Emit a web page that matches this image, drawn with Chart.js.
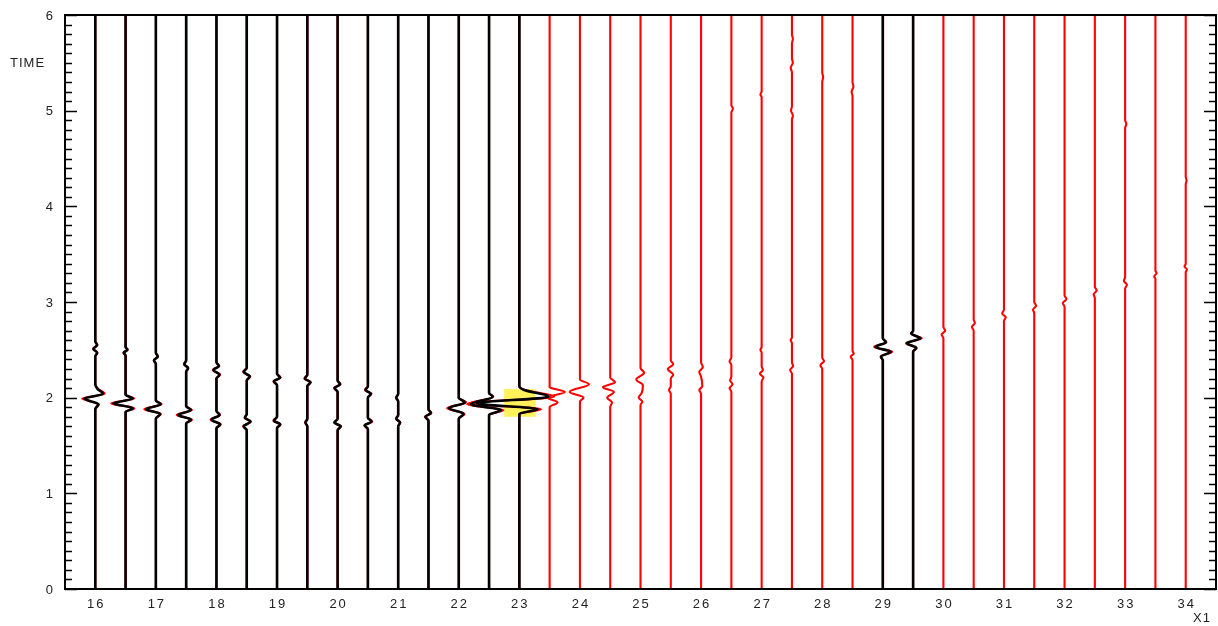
<!DOCTYPE html>
<html>
<head>
<meta charset="utf-8">
<title>Wiggle traces</title>
<script src="https://cdn.jsdelivr.net/npm/chart.js@4.4.1/dist/chart.umd.min.js"></script>
<style>
  html, body { margin: 0; padding: 0; background: #fff; }
  #wrap { width: 1218px; height: 626px; }
</style>
</head>
<body>
<div id="wrap"><canvas id="chart" width="1218" height="626"></canvas></div>
<script>
// trace positions along X1
const traceX = [16, 16.5, 17, 17.5, 18, 18.5, 19, 19.5, 20, 20.5, 21, 21.5, 22, 22.5, 23,
                23.5, 24, 24.5, 25, 25.5, 26, 26.5, 27, 27.5, 28, 28.5, 29, 29.5,
                30, 30.5, 31, 31.5, 32, 32.5, 33, 33.5, 34];

// traces picked (drawn black over a red copy); all others are red
const pickedTraces = [16, 16.5, 17, 17.5, 18, 18.5, 19, 19.5, 20, 20.5, 21, 21.5, 22, 22.5, 23, 29, 29.5];

// wiggle samples per trace: [time, amplitude in X1 units], time ascending
const wiggles = [
  [[1.88, 0], [1.93, 0.05], [1.99, -0.18], [2.04, 0.13], [2.09, 0.04], [2.14, 0], [2.43, 0], [2.47, 0.03], [2.51, -0.03], [2.55, 0.03], [2.59, 0]],
  [[1.85, 0], [1.89, 0.12], [1.94, -0.2], [1.99, 0.12], [2.03, 0], [2.44, 0], [2.47, -0.03], [2.50, 0.03], [2.53, 0]],
  [[1.78, 0], [1.83, 0.07], [1.88, -0.16], [1.93, 0.08], [1.97, 0], [2.35, 0], [2.39, -0.03], [2.43, 0.03], [2.47, 0]],
  [[1.73, 0], [1.77, 0.08], [1.82, -0.13], [1.87, 0.08], [1.91, 0], [2.27, 0], [2.31, 0.03], [2.35, -0.03], [2.39, 0]],
  [[1.68, 0], [1.72, 0.06], [1.77, -0.08], [1.82, 0.05], [1.86, 0], [2.20, 0], [2.24, 0.05], [2.29, -0.05], [2.33, 0.04], [2.37, 0]],
  [[1.66, 0], [1.70, -0.05], [1.75, 0.06], [1.79, -0.03], [1.83, 0], [2.18, 0], [2.22, 0.05], [2.27, -0.05], [2.31, 0]],
  [[1.68, 0], [1.72, 0.05], [1.76, -0.05], [1.80, 0], [2.13, 0], [2.17, -0.05], [2.21, 0.05], [2.25, 0]],
  [[1.70, 0], [1.74, -0.03], [1.78, 0], [2.12, 0], [2.16, 0.05], [2.20, -0.04], [2.24, 0]],
  [[1.66, 0], [1.70, 0.05], [1.74, -0.05], [1.78, 0], [2.06, 0], [2.10, -0.05], [2.14, 0.04], [2.18, 0]],
  [[1.67, 0], [1.71, -0.05], [1.75, 0.06], [1.79, 0], [2.00, 0], [2.04, 0.05], [2.08, -0.04], [2.12, 0]],
  [[1.70, 0], [1.74, 0.03], [1.78, -0.03], [1.82, 0], [1.96, 0], [2.00, -0.03], [2.04, 0]],
  [[1.76, 0], [1.80, -0.05], [1.84, 0.04], [1.88, 0]],
  [[1.78, 0], [1.83, 0.08], [1.89, -0.16], [1.95, 0.1], [2.00, 0]],
  [[1.82, 0], [1.87, 0.2], [1.93, -0.3], [2.01, 0.06], [2.05, 0]],
  [[1.83, 0], [1.88, 0.3], [1.94, -0.7], [2.01, 0.48], [2.08, 0.08], [2.12, 0]],
  [[1.90, 0], [1.95, 0.13], [2.00, -0.03], [2.06, 0.25], [2.11, 0]],
  [[1.96, 0], [2.00, 0.06], [2.06, -0.17], [2.14, 0.15], [2.19, 0]],
  [[1.90, 0], [1.95, 0.03], [2.00, -0.05], [2.06, 0.06], [2.11, -0.12], [2.16, 0.08], [2.21, 0]],
  [[1.92, 0], [1.96, 0.03], [2.00, -0.03], [2.05, 0.02], [2.13, 0.04], [2.19, -0.07], [2.26, 0.06], [2.31, 0]],
  [[2.04, 0], [2.08, -0.03], [2.12, 0], [2.20, 0], [2.24, 0.04], [2.30, -0.05], [2.35, 0.04], [2.39, 0]],
  [[2.04, 0], [2.08, -0.03], [2.12, 0.02], [2.22, 0], [2.27, -0.03], [2.32, 0.03], [2.37, 0]],
  [[2.06, 0], [2.10, -0.03], [2.14, 0.02], [2.18, -0.02], [2.22, 0], [2.34, 0], [2.38, -0.03], [2.42, 0],
   [4.98, 0], [5.02, 0.025], [5.06, 0]],
  [[2.17, 0], [2.21, 0.03], [2.25, -0.03], [2.29, 0.02], [2.33, 0], [2.47, 0], [2.50, -0.02], [2.53, 0],
   [5.14, 0], [5.17, -0.02], [5.20, 0]],
  [[2.25, 0], [2.29, -0.03], [2.33, 0.02], [2.37, 0], [2.57, 0], [2.60, -0.02], [2.63, 0],
   [4.90, 0], [4.95, 0.015], [5.00, -0.015], [5.05, 0], [5.40, 0], [5.45, -0.02], [5.50, 0.015], [5.55, 0],
   [5.70, 0], [5.75, 0.015], [5.80, 0]],
  [[2.30, 0], [2.34, -0.03], [2.38, 0.03], [2.42, 0], [5.30, 0], [5.35, 0.015], [5.40, 0]],
  [[2.39, 0], [2.43, -0.03], [2.46, 0.02], [2.49, 0], [5.15, 0], [5.20, -0.015], [5.25, 0.015], [5.30, 0]],
  [[2.39, 0], [2.43, -0.03], [2.48, 0.13], [2.53, -0.12], [2.58, 0.05], [2.62, 0]],
  [[2.48, 0], [2.52, 0.05], [2.57, -0.1], [2.62, 0.12], [2.67, -0.03], [2.70, 0]],
  [[2.62, 0], [2.66, -0.03], [2.70, 0.03], [2.74, 0]],
  [[2.70, 0], [2.74, -0.03], [2.78, 0.02], [2.82, 0]],
  [[2.80, 0], [2.84, 0.03], [2.88, -0.03], [2.92, 0]],
  [[2.88, 0], [2.92, -0.02], [2.96, 0.03], [3.00, 0]],
  [[2.95, 0], [2.99, -0.03], [3.03, 0.03], [3.07, 0]],
  [[3.04, 0], [3.08, -0.02], [3.12, 0.03], [3.16, 0]],
  [[3.14, 0], [3.18, 0.03], [3.22, -0.02], [3.26, 0], [4.82, 0], [4.86, 0.02], [4.90, 0]],
  [[3.24, 0], [3.27, -0.02], [3.30, 0.02], [3.33, 0]],
  [[3.31, 0], [3.34, 0.02], [3.37, -0.02], [3.40, 0], [4.23, 0], [4.27, 0.015], [4.31, 0]]
];

const xTicks = [16, 17, 18, 19, 20, 21, 22, 23, 24, 25, 26, 27, 28, 29, 30, 31, 32, 33, 34];
const yTicks = [0, 1, 2, 3, 4, 5, 6];

// highlighted pick window: X1 range and time range
const pickX = [22.75, 23.27];
const pickT = [1.80, 2.09];

const X_MIN = 15.5, X_MAX = 34.5, T_MIN = 0, T_MAX = 6;

function tracePoints(pos, samples, gain) {
  const pts = [{ x: pos, y: T_MIN }];
  samples.forEach(function (s) {
    pts.push({ x: pos + s[1] * gain, y: s[0] });
  });
  pts.push({ x: pos, y: T_MAX });
  return pts;
}

const base = {
  type: 'line',
  fill: false,
  pointRadius: 0,
  pointHoverRadius: 0,
  cubicInterpolationMode: 'monotone',
  indexAxis: 'y'
};

const blackSets = [];
const redSets = [];
traceX.forEach(function (pos, i) {
  const picked = pickedTraces.indexOf(pos) !== -1;
  // red copy under every trace
  redSets.push(Object.assign({}, base, {
    data: tracePoints(pos, wiggles[i], picked ? 1.2 : 1),
    borderColor: '#ff0000',
    borderWidth: 2.1
  }));
  if (picked) {
    blackSets.push(Object.assign({}, base, {
      data: tracePoints(pos, wiggles[i], 1),
      borderColor: '#000000',
      borderWidth: 2.6
    }));
  }
});

// pick window behind the traces
const pickBoxPlugin = {
  id: 'pickBox',
  beforeDatasetsDraw: function (chart) {
    const xs = chart.scales.x, ys = chart.scales.y, ctx = chart.ctx;
    const x0 = xs.getPixelForValue(pickX[0]), x1 = xs.getPixelForValue(pickX[1]);
    const y0 = ys.getPixelForValue(pickT[1]), y1 = ys.getPixelForValue(pickT[0]);
    ctx.save();
    ctx.fillStyle = '#fff25a';
    ctx.fillRect(x0, y0, x1 - x0, y1 - y0);
    ctx.restore();
  }
};

// frame, inward ticks and labels
const framePlugin = {
  id: 'frame',
  afterDatasetsDraw: function (chart) {
    const a = chart.chartArea, ctx = chart.ctx;
    const xs = chart.scales.x, ys = chart.scales.y;
    ctx.save();
    ctx.strokeStyle = '#000';
    ctx.lineWidth = 2;
    ctx.strokeRect(a.left, a.top, a.right - a.left, a.bottom - a.top);

    ctx.lineWidth = 1.6;
    ctx.beginPath();
    for (let k = T_MIN * 10; k <= T_MAX * 10; k++) {
      const y = Math.round(ys.getPixelForValue(k / 10)) + 0.5;
      const len = k % 10 === 0 ? 12 : 7;
      ctx.moveTo(a.left, y); ctx.lineTo(a.left + len, y);
      ctx.moveTo(a.right, y); ctx.lineTo(a.right - len, y);
    }
    ctx.stroke();

    ctx.fillStyle = '#222';
    ctx.font = '13px "Liberation Sans", Arial, sans-serif';
    ctx.textBaseline = 'middle';
    ctx.letterSpacing = '2px';
    ctx.textAlign = 'right';
    yTicks.forEach(function (v) {
      ctx.fillText(String(v), a.left - 10, ys.getPixelForValue(v) + 1);
    });
    ctx.textAlign = 'center';
    xTicks.forEach(function (v) {
      ctx.fillText(String(v), xs.getPixelForValue(v) + 1, a.bottom + 15);
    });
    ctx.letterSpacing = '1px';
    ctx.textAlign = 'left';
    ctx.fillText('TIME', 10, 63);
    ctx.textAlign = 'right';
    ctx.fillText('X1', a.right - 5, a.bottom + 29);
    ctx.restore();
  }
};

new Chart(document.getElementById('chart'), {
  type: 'line',
  data: { datasets: blackSets.concat(redSets) },
  options: {
    responsive: false,
    animation: false,
    indexAxis: 'y',
    layout: { padding: { left: 65, right: 2, top: 15, bottom: 37 } },
    plugins: { legend: { display: false }, tooltip: { enabled: false } },
    events: [],
    scales: {
      x: { type: 'linear', min: X_MIN, max: X_MAX, display: false },
      y: { type: 'linear', min: T_MIN, max: T_MAX, display: false }
    }
  },
  plugins: [pickBoxPlugin, framePlugin]
});
</script>
</body>
</html>
